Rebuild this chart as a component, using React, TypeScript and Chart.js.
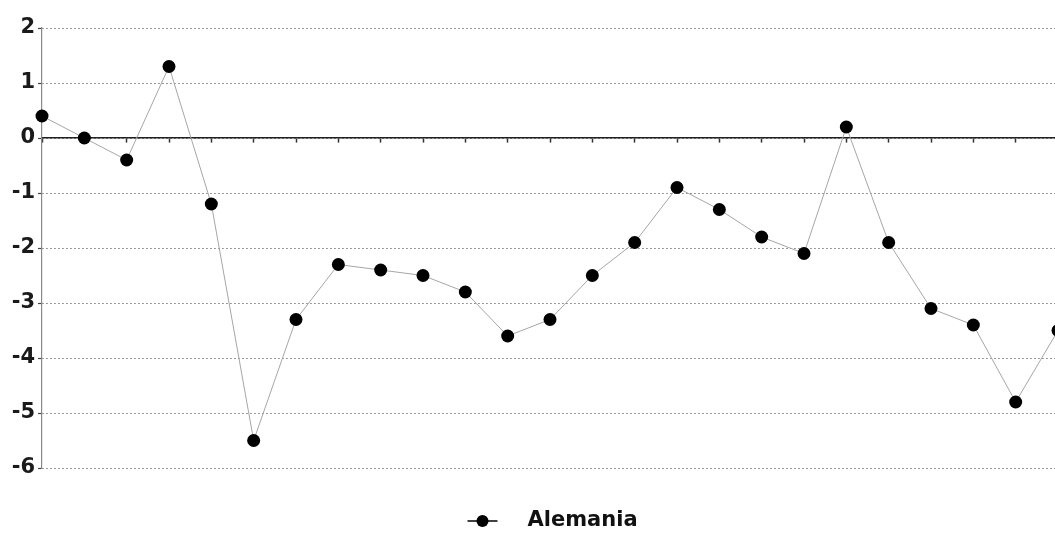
import React, { useEffect, useRef } from "react";
import { Chart, registerables } from "chart.js";

Chart.register(...registerables);

// Periods along the horizontal axis (not labelled on the chart)
const periods: string[] = [
  "1", "2", "3", "4", "5", "6", "7", "8", "9", "10", "11", "12", "13",
  "14", "15", "16", "17", "18", "19", "20", "21", "22", "23", "24", "25",
];

// Alemania series values
const alemania: number[] = [
  0.4, 0, -0.4, 1.3, -1.2, -5.5, -3.3, -2.3, -2.4, -2.5, -2.8, -3.6, -3.3,
  -2.5, -1.9, -0.9, -1.3, -1.8, -2.1, 0.2, -1.9, -3.1, -3.4, -4.8, -3.5,
];

const seriesLabel = "Alemania";
const yMin = -6;
const yMax = 2;

const FONT = "'DejaVu Sans', Verdana, sans-serif";

// Legend drawn below the plot: a short line with a dot, then the series name
const legendPlugin = {
  id: "seriesLegend",
  afterDraw(chart: Chart) {
    const ctx = chart.ctx;
    const ds = chart.data.datasets[0];
    const cx = chart.width / 2;
    const y = chart.chartArea.bottom + 53;
    const mx = cx - 55;
    ctx.save();
    ctx.strokeStyle = "#111";
    ctx.lineWidth = 1.6;
    ctx.beginPath();
    ctx.moveTo(mx - 15, y);
    ctx.lineTo(mx + 15, y);
    ctx.stroke();
    ctx.fillStyle = "#000";
    ctx.beginPath();
    ctx.arc(mx, y, 6, 0, Math.PI * 2);
    ctx.fill();
    ctx.fillStyle = "#111";
    ctx.font = `bold 21px ${FONT}`;
    ctx.textAlign = "left";
    ctx.textBaseline = "middle";
    ctx.fillText(String(ds.label), cx - 10, y);
    ctx.restore();
  },
};

export default function App() {
  const canvasRef = useRef<HTMLCanvasElement | null>(null);

  useEffect(() => {
    if (!canvasRef.current) return;
    const chart = new Chart(canvasRef.current, {
      type: "line",
      data: {
        labels: periods,
        datasets: [
          {
            label: seriesLabel,
            data: alemania,
            borderColor: "#a6a6a6",
            borderWidth: 1,
            tension: 0,
            pointRadius: 6.5,
            pointHoverRadius: 6.5,
            pointBackgroundColor: "#000",
            pointBorderColor: "#000",
            pointBorderWidth: 0,
            pointStyle: "circle",
            clip: false,
          },
        ],
      },
      options: {
        animation: false,
        responsive: false,
        maintainAspectRatio: false,
        layout: { padding: { left: 0, right: 17, top: 28, bottom: 66 } },
        plugins: {
          tooltip: { enabled: false },
          legend: { display: false },
        },
        scales: {
          x: {
            type: "category",
            offset: false,
            position: { y: 0 },
            grid: {
              display: true,
              drawOnChartArea: false,
              drawTicks: true,
              tickLength: 4,
              tickColor: "#333",
              tickWidth: 1.5,
            },
            border: { display: true, color: "#222", width: 1.6 },
            ticks: { display: false },
          },
          y: {
            min: yMin,
            max: yMax,
            afterFit: (scale) => {
              scale.width = 42;
            },
            ticks: {
              stepSize: 1,
              color: "#1a1a1a",
              padding: 3,
              font: { family: FONT, size: 21, weight: "bold" },
            },
            grid: {
              color: "#7a7a7a",
              lineWidth: 1,
              drawTicks: true,
              tickLength: 4,
              tickColor: "#444",
              tickWidth: 1.2,
            },
            border: { display: true, color: "#8a8a8a", width: 1.2, dash: [1.5, 2.5] },
          },
        },
      },
      plugins: [legendPlugin],
    });
    return () => chart.destroy();
  }, []);

  return (
    <div
      style={{
        position: "fixed",
        left: 0,
        top: 0,
        width: 1055,
        height: 534,
        overflow: "hidden",
        background: "#fff",
      }}
    >
      <canvas
        ref={canvasRef}
        width={1075}
        height={534}
        style={{ display: "block", width: 1075, height: 534 }}
      />
    </div>
  );
}
